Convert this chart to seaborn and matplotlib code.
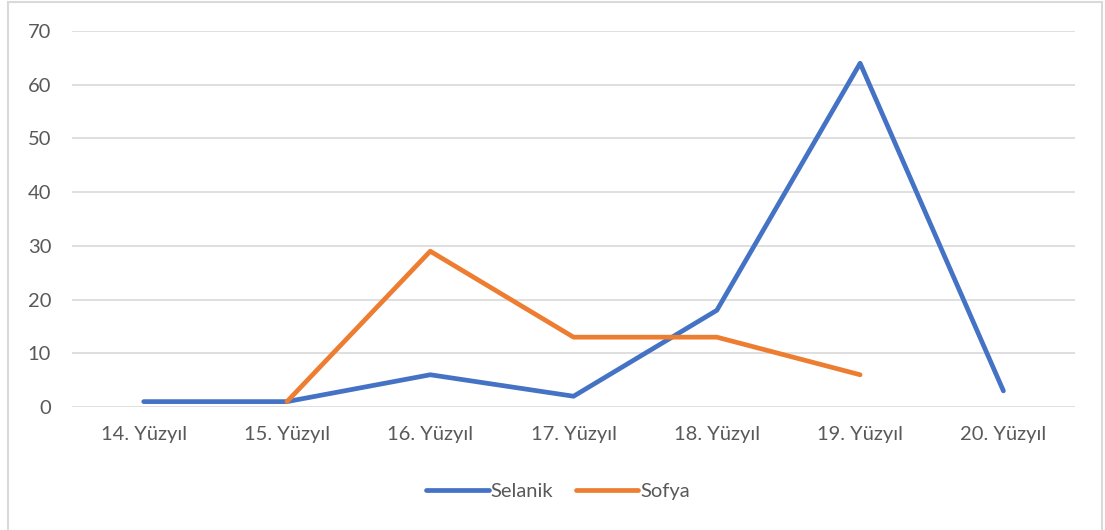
import numpy as np
import pandas as pd
import matplotlib.pyplot as plt
import seaborn as sns
from matplotlib.patches import Rectangle

centuries = ['14. Yüzyıl', '15. Yüzyıl', '16. Yüzyıl', '17. Yüzyıl',
             '18. Yüzyıl', '19. Yüzyıl', '20. Yüzyıl']
selanik = [1, 1, 6, 2, 18, 64, 3]
sofya = [np.nan, 1, 29, 13, 13, 6, np.nan]

df = pd.DataFrame({
    'Yüzyıl': centuries * 2,
    'Değer': selanik + sofya,
    'Şehir': ['Selanik'] * len(centuries) + ['Sofya'] * len(centuries),
})
df = df.dropna()

sns.set_style('white')
plt.rcParams['font.family'] = ['Lato', 'DejaVu Sans']

fig = plt.figure(figsize=(11.05, 5.3), dpi=100)
ax = fig.add_axes([0.0652, 0.2321, 0.9077, 0.7094])

palette = {'Selanik': '#4472C4', 'Sofya': '#ED7D31'}
sns.lineplot(data=df, x='Yüzyıl', y='Değer', hue='Şehir', palette=palette,
             linewidth=3.4, sort=False, ax=ax, legend=False,
             solid_capstyle='round', solid_joinstyle='round')

ax.set_xlim(-0.5, len(centuries) - 0.5)
ax.set_ylim(0, 70)
ax.set_yticks(range(0, 71, 10))
ax.yaxis.grid(True, color='#D9D9D9', linewidth=1.2)
ax.set_axisbelow(True)
for s in ax.spines.values():
    s.set_visible(False)
ax.set_xlabel('')
ax.set_ylabel('')
ax.tick_params(axis='both', length=0, labelsize=14.5, labelcolor='#595959')
ax.tick_params(axis='x', pad=14)
ax.tick_params(axis='y', pad=15)

handles = [plt.Line2D([], [], color=palette[k], linewidth=3.4,
                      solid_capstyle='round') for k in ['Selanik', 'Sofya']]
fig.legend(handles, ['Selanik', 'Sofya'], loc='center', ncol=2,
           bbox_to_anchor=(0.505, 0.072), frameon=False, fontsize=14.5,
           labelcolor='#595959', handlelength=3.1, handletextpad=0.1,
           columnspacing=1.1)

fig.patches.append(Rectangle((8 / 1105, -0.05), 1094 / 1105, 1.05 - 2 / 530,
                             transform=fig.transFigure, fill=False,
                             edgecolor='#D9D9D9', linewidth=1.5))

fig.savefig('out.png', dpi=100)
